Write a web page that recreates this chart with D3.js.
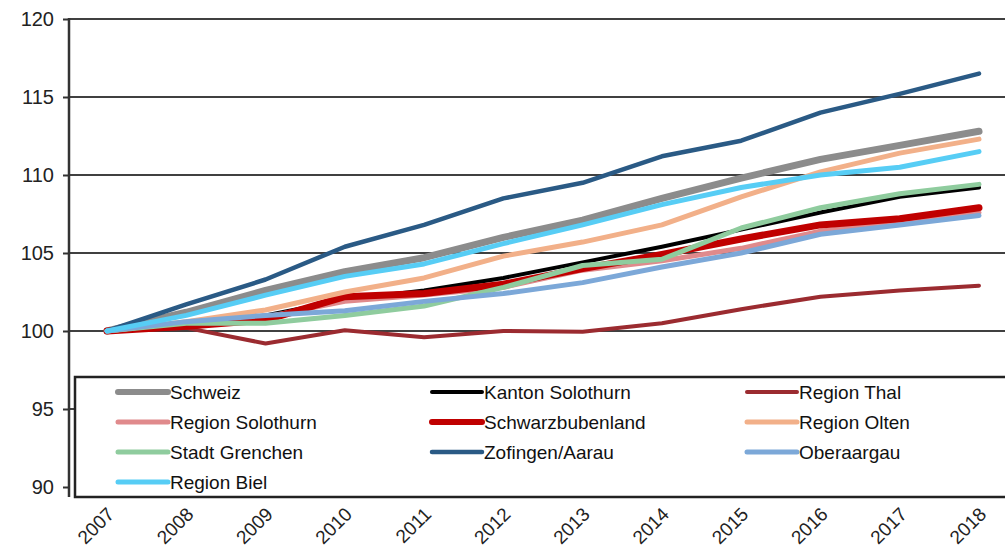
<!DOCTYPE html>
<html>
<head>
<meta charset="utf-8">
<script src="https://d3js.org/d3.v7.min.js"></script>
<style>
  body { margin: 0; background: #fff; }
  .grid line { stroke: #404040; stroke-width: 2px; }
  .series { fill: none; stroke-linejoin: round; stroke-linecap: round; }
  .ytick text { font-family: "Liberation Sans", Arial, sans-serif; font-size: 20px; fill: #222; }
  .xtick text { font-family: "Liberation Sans", Arial, sans-serif; font-size: 19px; fill: #222; }
  .legend text { font-family: "Liberation Sans", Arial, sans-serif; font-size: 19px; fill: #111; }
</style>
</head>
<body>
<div id="chart"></div>
<script>
const years = ['2007','2008','2009','2010','2011','2012','2013','2014','2015','2016','2017','2018'];
const yTicks = [90, 95, 100, 105, 110, 115, 120];

const schweiz          = [100, 101.2, 102.6, 103.8, 104.7, 106.0, 107.1, 108.5, 109.8, 111.0, 111.9, 112.8];
const kantonSolothurn  = [100, 100.5, 101.0, 102.0, 102.6, 103.4, 104.4, 105.4, 106.5, 107.6, 108.6, 109.2];
const regionThal       = [100, 100.2, 99.2, 100.05, 99.6, 100.0, 99.95, 100.5, 101.4, 102.2, 102.6, 102.9];
const regionSolothurn  = [100, 100.4, 100.9, 101.9, 102.3, 102.8, 103.9, 104.5, 105.3, 106.4, 107.0, 107.6];
const schwarzbubenland = [100, 100.3, 100.7, 102.2, 102.4, 103.0, 104.0, 104.9, 105.9, 106.8, 107.2, 107.9];
const regionOlten      = [100, 100.6, 101.35, 102.5, 103.4, 104.8, 105.7, 106.8, 108.6, 110.2, 111.4, 112.3];
const stadtGrenchen    = [100, 100.5, 100.5, 101.0, 101.6, 102.8, 104.2, 104.6, 106.6, 107.9, 108.8, 109.4];
const zofingenAarau    = [100, 101.7, 103.3, 105.4, 106.8, 108.5, 109.5, 111.2, 112.2, 114.0, 115.2, 116.5];
const oberaargau       = [100, 100.6, 101.0, 101.3, 101.9, 102.4, 103.1, 104.1, 105.0, 106.2, 106.8, 107.4];
const regionBiel       = [100, 101.0, 102.3, 103.5, 104.3, 105.6, 106.8, 108.1, 109.2, 110.0, 110.5, 111.5];

const series = [
  { name: 'Schweiz', values: schweiz, color: '#8c8c8c', width: 7 },
  { name: 'Kanton Solothurn', values: kantonSolothurn, color: '#000000', width: 4 },
  { name: 'Region Thal', values: regionThal, color: '#9b2b30', width: 4 },
  { name: 'Region Solothurn', values: regionSolothurn, color: '#e08a8c', width: 5 },
  { name: 'Schwarzbubenland', values: schwarzbubenland, color: '#c00000', width: 7 },
  { name: 'Region Olten', values: regionOlten, color: '#f2b089', width: 5 },
  { name: 'Stadt Grenchen', values: stadtGrenchen, color: '#8fcc9e', width: 5 },
  { name: 'Zofingen/Aarau', values: zofingenAarau, color: '#2a5a85', width: 4.5 },
  { name: 'Oberaargau', values: oberaargau, color: '#7ca8d8', width: 5 },
  { name: 'Region Biel', values: regionBiel, color: '#57cdf5', width: 5 }
];

const W = 1005, H = 550;
const left = 69, right = 1010;
const svg = d3.select('#chart').append('svg').attr('width', W).attr('height', H);

const x = d3.scalePoint().domain(years).range([107, 979]);
const y = d3.scaleLinear().domain([90, 120]).range([487, 19]);

// gridlines
svg.append('g').attr('class', 'grid')
  .selectAll('line').data(yTicks.filter(d => d > 90)).enter().append('line')
  .attr('x1', left).attr('x2', right)
  .attr('y1', d => y(d)).attr('y2', d => y(d));

// y axis
const yAxis = svg.append('g').attr('class', 'ytick')
  .attr('transform', `translate(${left},0)`)
  .call(d3.axisLeft(y).tickValues(yTicks).tickSize(6).tickPadding(9));
yAxis.select('.domain').remove();
yAxis.selectAll('.tick line').attr('stroke', '#333').attr('stroke-width', 2);
svg.append('line').attr('x1', left).attr('x2', left).attr('y1', y(120) - 1).attr('y2', 497)
  .attr('stroke', '#333').attr('stroke-width', 2.5);

// lines
const line = d3.line().x((d, i) => x(years[i])).y(d => y(d));
svg.append('g').selectAll('path').data(series).enter().append('path')
  .attr('class', 'series')
  .attr('d', d => line(d.values))
  .attr('stroke', d => d.color)
  .attr('stroke-width', d => d.width);

// legend (covers the bottom axis line)
const lg = svg.append('g').attr('class', 'legend');
lg.append('rect').attr('x', 75).attr('y', 377).attr('width', 960).attr('height', 120)
  .attr('fill', '#fff').attr('stroke', '#222').attr('stroke-width', 2.5);
const colX = [118, 432, 747];
const items = lg.selectAll('g.item').data(series).enter().append('g').attr('class', 'item')
  .attr('transform', (d, i) => `translate(${colX[i % 3]},${392 + Math.floor(i / 3) * 30})`);
items.append('line').attr('x1', 0).attr('x2', 50).attr('y1', 0).attr('y2', 0)
  .attr('stroke', d => d.color).attr('stroke-linecap', 'round')
  .attr('stroke-width', d => Math.min(d.width, 6));
items.append('text').attr('x', 52).attr('y', 0).attr('dy', '0.36em').text(d => d.name);

// x labels
svg.append('g').attr('class', 'xtick').selectAll('text').data(years).enter().append('text')
  .attr('transform', d => `translate(${x(d) - 1},${506}) rotate(-45)`)
  .attr('text-anchor', 'end').attr('dy', '0.7em')
  .text(d => d);
</script>
</body>
</html>
